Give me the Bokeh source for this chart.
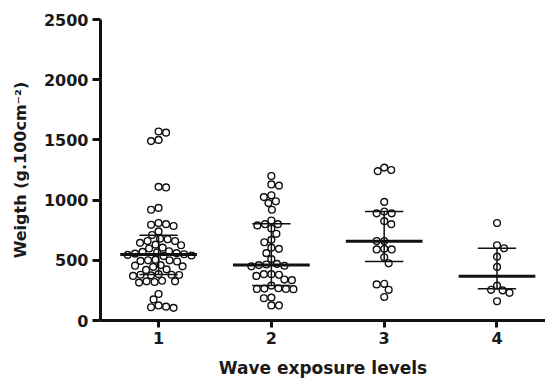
import numpy as np
from bokeh.plotting import figure
from bokeh.models import FixedTicker, Range1d
from bokeh.embed import file_html
from bokeh.resources import INLINE

# ---- data ----
levels = [1, 2, 3, 4]
level_labels = ["1", "2", "3", "4"]
g1 = [1560, 1570, 1490, 1500, 1110, 1105, 920, 935, 810, 795, 785, 800, 740, 710,
      680, 660, 645, 660, 675, 630, 625, 605, 598, 570, 565, 560, 575, 550, 545, 540,
      535, 555, 500, 495, 500, 505, 490, 455, 450, 445, 460, 425, 420, 380, 375, 385,
      370, 380, 378, 325, 320, 330, 315, 325, 220, 175, 105, 110, 115, 125]
g2 = [1200, 1120, 1130, 1040, 990, 1025, 975, 920, 800, 790, 765, 800, 830, 720, 670,
      650, 605, 595, 560, 510, 465, 450, 460, 455, 470, 385, 380, 370, 385, 340, 335,
      290, 265, 260, 262, 268, 262, 190, 185, 125, 125]
g3 = [1250, 1240, 1270, 985, 890, 890, 905, 800, 825, 660, 660, 590, 595, 590, 525,
      475, 305, 300, 255, 195]
g4 = [810, 600, 625, 530, 445, 290, 255, 230, 250, 160]
medians = [548, 462, 659, 368]
q3 = [709, 803, 905, 600]
q1 = [382, 291, 490, 263]
y_ticks = [0, 500, 1000, 1500, 2000, 2500]

groups = [g1, g2, g3, g4]

W, H = 545, 382
BL, BR, BT, BB = 100, 0, 19, 62
x0, x1 = 0.4853, 4.43
y0, y1 = 0, 2500
fw, fh = W - BL - BR, H - BT - BB
sx = fw / (x1 - x0)
sy = fh / (y1 - y0)

p = figure(width=W, height=H, output_backend="svg", toolbar_location=None,
           x_range=Range1d(x0, x1), y_range=Range1d(y0, y1),
           min_border_left=BL, min_border_right=BR, min_border_top=BT,
           min_border_bottom=BB)
p.outline_line_color = None
p.grid.visible = False
p.background_fill_color = "white"


def swarm(vals, center, d=7.3):
    vals = np.asarray(vals, dtype=float)
    order = np.argsort(-vals, kind="stable")
    placed = []
    xs = np.zeros(len(vals))
    flip = 1
    for i in order:
        ypx = vals[i] * sy
        best = None
        k = 0
        while best is None:
            cands = [0.0] if k == 0 else [flip * k * 0.5, -flip * k * 0.5]
            for off in cands:
                if all((off - px) ** 2 + (ypx - py) ** 2 >= d * d for px, py in placed):
                    best = off
                    break
            k += 1
        if best != 0:
            flip = -flip
        placed.append((best, ypx))
        xs[i] = center + best / sx
    return xs


for lvl, vals in zip(levels, groups):
    xs = swarm(vals, lvl)
    p.scatter(xs, vals, marker="circle", size=6.8, fill_color="white",
              line_color="#111111", line_width=1.4)

mw, iw = 0.34, 0.17
p.segment(x0=[l - mw for l in levels], y0=medians, x1=[l + mw for l in levels],
          y1=medians, line_color="#111111", line_width=3)
p.segment(x0=[l - iw for l in levels], y0=q3, x1=[l + iw for l in levels],
          y1=q3, line_color="#111111", line_width=1.5)
p.segment(x0=[l - iw for l in levels], y0=q1, x1=[l + iw for l in levels],
          y1=q1, line_color="#111111", line_width=1.5)
p.segment(x0=levels, y0=q1, x1=levels, y1=q3, line_color="#111111", line_width=1.5)

font = "DejaVu Sans"
for ax in (p.xaxis[0], p.yaxis[0]):
    ax.axis_line_width = 3
    ax.axis_line_color = "#111111"
    ax.major_tick_line_width = 3
    ax.major_tick_line_color = "#111111"
    ax.minor_tick_line_color = None
    ax.major_tick_in = 0
    ax.major_label_text_font = font
    ax.major_label_text_font_style = "bold"
    ax.major_label_text_font_size = "16px"
    ax.major_label_text_color = "#1a1a1a"
    ax.axis_label_text_font = font
    ax.axis_label_text_font_style = "bold"
    ax.axis_label_text_color = "#1a1a1a"

p.xaxis.ticker = FixedTicker(ticks=levels)
p.xaxis.major_label_overrides = {l: s for l, s in zip(levels, level_labels)}
p.xaxis.major_tick_out = 7
p.xaxis.major_label_standoff = 4
p.xaxis.axis_label = "Wave exposure levels"
p.xaxis.axis_label_text_font_size = "17px"
p.xaxis.axis_label_standoff = 11

p.yaxis.ticker = FixedTicker(ticks=y_ticks)
p.yaxis.major_tick_out = 8
p.yaxis.major_label_standoff = 4
p.yaxis.axis_label = "Weigth (g.100cm\u207b\u00b2)"
p.yaxis.axis_label_text_font_size = "16px"
p.yaxis.axis_label_standoff = 11

open("out.html", "w").write(file_html(p, INLINE))
